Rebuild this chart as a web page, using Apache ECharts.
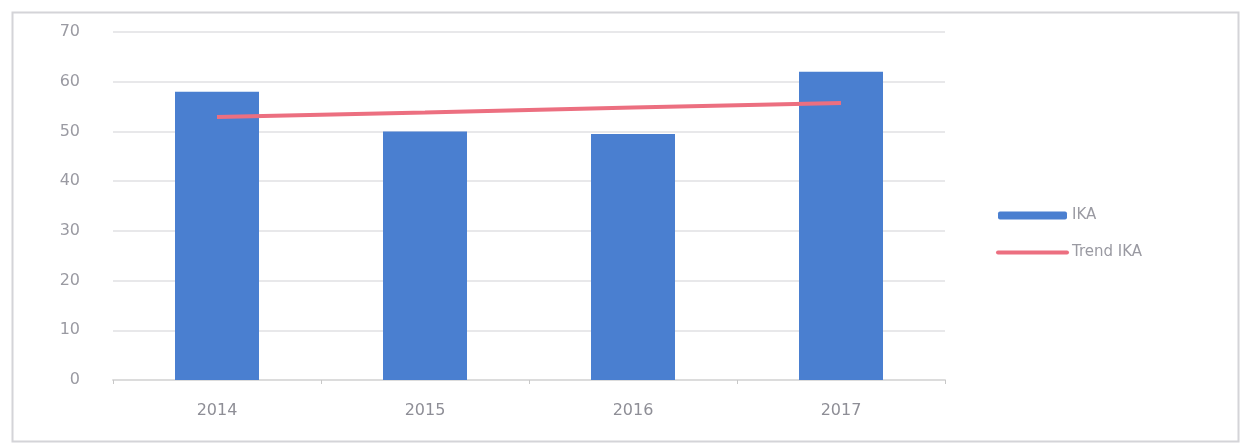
<!DOCTYPE html>
<html>
<head>
<meta charset="utf-8">
<script src="https://cdn.jsdelivr.net/npm/echarts@6/dist/echarts.min.js"></script>
<style>
  html, body { margin: 0; padding: 0; background: #ffffff; }
  #chart { width: 1243px; height: 443px; }
</style>
</head>
<body>
<div id="chart"></div>
<script>
// Years on the category axis
const years = ['2014', '2015', '2016', '2017'];
// IKA per year
const ikaValues = [58, 50, 49.5, 62];
// Linear trend of IKA
const trendValues = [52.9, 53.8, 54.8, 55.7];
// Value axis range
const yMin = 0;
const yMax = 70;
const yStep = 10;

const chart = echarts.init(document.getElementById('chart'));

chart.setOption({
  animation: false,
  backgroundColor: '#ffffff',
  textStyle: { fontFamily: 'DejaVu Sans' },
  graphic: [{
    type: 'rect',
    left: 10, top: 10,
    shape: { width: 1226, height: 429 },
    style: { fill: 'none', stroke: '#d4d4d8', lineWidth: 2 },
    silent: true
  }],
  grid: { left: 113, right: 298, top: 32, bottom: 63 },
  legend: {
    orient: 'vertical',
    left: 991,
    top: 203,
    itemWidth: 69,
    itemHeight: 8,
    itemGap: 22,
    textStyle: { color: '#9a9aa2', fontSize: 15 },
    data: [
      { name: 'IKA', icon: 'roundRect' },
      {
        name: 'Trend IKA',
        itemStyle: { color: 'rgba(0,0,0,0)', borderColor: 'rgba(0,0,0,0)', borderWidth: 0 },
        lineStyle: { color: '#ec6f80', width: 4, cap: 'round' }
      }
    ]
  },
  xAxis: {
    type: 'category',
    data: years,
    axisLine: { lineStyle: { color: '#dcdcdc', width: 2 } },
    axisTick: { show: true, length: 4, lineStyle: { color: '#c8c8c8' } },
    axisLabel: { color: '#8e8e96', fontSize: 16, margin: 23 },
    splitLine: { show: false }
  },
  yAxis: {
    type: 'value',
    min: yMin,
    max: yMax,
    interval: yStep,
    axisLine: { show: false },
    axisTick: { show: false },
    axisLabel: { color: '#9a9aa2', fontSize: 16, margin: 33 },
    splitLine: { lineStyle: { color: '#e8e8ea', width: 2 } }
  },
  series: [
    {
      name: 'IKA',
      type: 'bar',
      data: ikaValues,
      barWidth: 84,
      itemStyle: { color: '#4a7fd0' }
    },
    {
      name: 'Trend IKA',
      type: 'line',
      data: trendValues,
      symbol: 'none',
      lineStyle: { color: '#ec6f80', width: 4 },
      itemStyle: { color: '#ec6f80' },
      z: 3
    }
  ]
});
</script>
</body>
</html>
